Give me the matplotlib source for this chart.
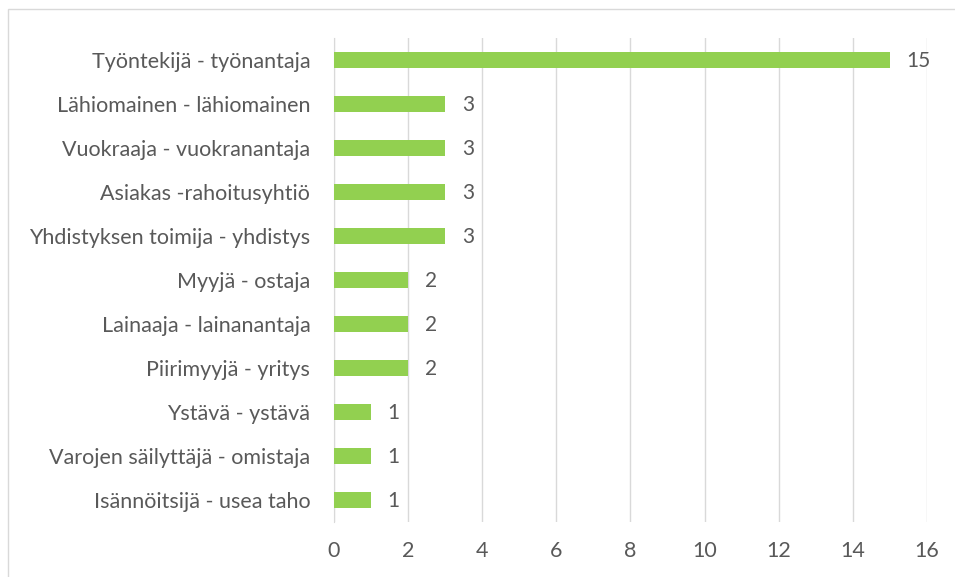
import matplotlib.pyplot as plt
from matplotlib.patches import Rectangle

# Data (top to bottom as in the chart)
categories = [
    "Työntekijä - työnantaja",
    "Lähiomainen - lähiomainen",
    "Vuokraaja - vuokranantaja",
    "Asiakas -rahoitusyhtiö",
    "Yhdistyksen toimija - yhdistys",
    "Myyjä - ostaja",
    "Lainaaja - lainanantaja",
    "Piirimyyjä - yritys",
    "Ystävä - ystävä",
    "Varojen säilyttäjä - omistaja",
    "Isännöitsijä - usea taho",
]
values = [15, 3, 3, 3, 3, 2, 2, 2, 1, 1, 1]
xticks = [0, 2, 4, 6, 8, 10, 12, 14, 16]

text_col = "#595959"
grid_col = "#D9D9D9"
bar_col = "#92D050"

plt.rcParams["font.family"] = ["Lato", "DejaVu Sans"]

fig = plt.figure(figsize=(9.55, 5.77), dpi=100)
ax = fig.add_axes([0.3497, 0.0953, 0.9707 - 0.3497, 0.934 - 0.0953])

# chart frame
fig.patches.append(Rectangle((8 / 955, -0.01), 1.0, 1 - 9 / 577 + 0.01,
                             transform=fig.transFigure, fill=False,
                             edgecolor=grid_col, linewidth=1))

y = list(range(len(categories)))
ax.barh(y, values, height=0.36, color=bar_col, zorder=3)
for yi, v in zip(y, values):
    ax.text(v + 0.45, yi + 0.03, str(v), va="center", ha="left",
            fontsize=15, color=text_col)

ax.set_ylim(len(categories) - 0.5, -0.5)
ax.set_xlim(0, 16)
ax.set_xticks(xticks)
ax.set_yticks(y)
ax.set_yticklabels(categories)
ax.tick_params(axis="both", length=0, labelsize=15.5, colors=text_col)
ax.tick_params(axis="y", pad=17)
ax.tick_params(axis="x", pad=14)
ax.xaxis.grid(True, color=grid_col, linewidth=1, zorder=0)
for s in ["top", "right", "bottom"]:
    ax.spines[s].set_visible(False)
ax.spines["left"].set_color(grid_col)

fig.savefig("out.png", dpi=100)
